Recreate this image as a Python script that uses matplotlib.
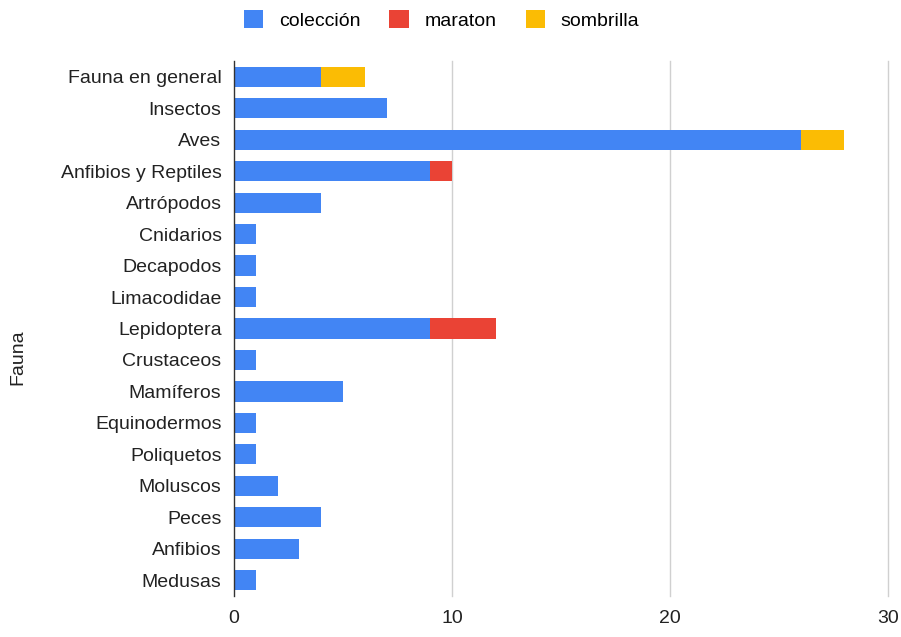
import matplotlib
matplotlib.use("Agg")
import matplotlib.pyplot as plt
import numpy as np

plt.rcParams["font.family"] = ["Liberation Sans", "DejaVu Sans"]

categories = ["Fauna en general", "Insectos", "Aves", "Anfibios y Reptiles", "Artrópodos",
              "Cnidarios", "Decapodos", "Limacodidae", "Lepidoptera", "Crustaceos",
              "Mamíferos", "Equinodermos", "Poliquetos", "Moluscos", "Peces",
              "Anfibios", "Medusas"]
coleccion = [4, 7, 26, 9, 4, 1, 1, 1, 9, 1, 5, 1, 1, 2, 4, 3, 1]
maraton = [0, 0, 0, 1, 0, 0, 0, 0, 3, 0, 0, 0, 0, 0, 0, 0, 0]
sombrilla = [2, 0, 2, 0, 0, 0, 0, 0, 0, 0, 0, 0, 0, 0, 0, 0, 0]
xticks = [0, 10, 20, 30]

BLUE = "#4285F4"
RED = "#EA4335"
YELLOW = "#FBBC04"
FS = 14

fig = plt.figure(figsize=(9.01, 6.37), dpi=100)
ax = fig.add_axes([234 / 901, 1 - 596 / 637, (888 - 234) / 901, (596 - 61) / 637])

y = np.arange(len(categories))
h = 0.64
c = np.array(coleccion)
m = np.array(maraton)
s = np.array(sombrilla)
ax.barh(y, c, h, color=BLUE, label="colección", zorder=3)
ax.barh(y, m, h, left=c, color=RED, label="maraton", zorder=3)
ax.barh(y, s, h, left=c + m, color=YELLOW, label="sombrilla", zorder=3)

ax.set_ylim(len(categories) - 0.5, -0.5)
ax.set_xlim(0, 30)
ax.set_yticks(y)
ax.set_yticklabels(categories, fontsize=FS, color="#222222")
ax.set_xticks(xticks)
ax.set_xticklabels([str(t) for t in xticks], fontsize=FS, color="#222222")
ax.tick_params(length=0, pad=9)
ax.tick_params(axis="x", pad=10)

for t in xticks[1:]:
    ax.axvline(t, color="#d0d0d0", linewidth=1, zorder=1, clip_on=False)
for sp in ["top", "right", "bottom"]:
    ax.spines[sp].set_visible(False)
ax.spines["left"].set_color("#333333")
ax.spines["left"].set_linewidth(1)
ax.spines["left"].set_zorder(4)

fig.text(18 / 901, 1 - 357 / 637, "Fauna", rotation=90, fontsize=FS,
         ha="center", va="center", color="#222222")

handles, labels = ax.get_legend_handles_labels()
fig.legend(handles, labels, loc="center", bbox_to_anchor=(0.49, 1 - 20 / 637),
           ncol=3, frameon=False, fontsize=FS, handlelength=1.0, handleheight=1.0,
           columnspacing=1.5, handletextpad=0.8)

fig.savefig("out.png", dpi=100)
